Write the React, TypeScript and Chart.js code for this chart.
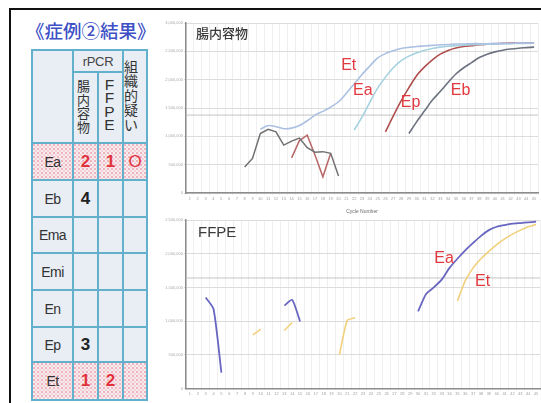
import React, { useEffect, useRef } from 'react';
import { Chart, registerables } from 'chart.js';

Chart.register(...registerables);

// ---------- data ----------
const cycleLabels = [
  '1', '2', '3', '4', '5', '6', '7', '8', '9', '10', '11', '12', '13', '14', '15',
  '16', '17', '18', '19', '20', '21', '22', '23', '24', '25', '26', '27', '28', '29', '30',
  '31', '32', '33', '34', '35', '36', '37', '38', '39', '40', '41', '42', '43', '44', '45',
];

// top panel: 腸内容物 (series start cycle + values)
const gutEtStart = 10;
const gutEt = [2.25, 2.38, 2.34, 2.27, 2.29, 2.38, 2.55, 2.75, 2.88, 3.03, 3.22, 3.52, 3.85, 4.18, 4.48, 4.77, 4.92, 5.02, 5.1, 5.14, 5.17, 5.19, 5.21, 5.23, 5.24, 5.26, 5.26, 5.27, 5.27, 5.27, 5.28, 5.28, 5.28, 5.29, 5.29, 5.29];
const gutEaStart = 22;
const gutEa = [2.22, 2.68, 3.2, 3.7, 4.09, 4.42, 4.67, 4.83, 4.95, 5.04, 5.1, 5.15, 5.18, 5.2, 5.22, 5.23, 5.24, 5.25, 5.26, 5.27, 5.27, 5.28, 5.28, 5.29];
const gutEpStart = 26;
const gutEp = [2.16, 2.72, 3.25, 3.72, 4.15, 4.45, 4.7, 4.9, 5.03, 5.12, 5.17, 5.2, 5.23, 5.25, 5.27, 5.28, 5.29, 5.29, 5.3, 5.3];
const gutEbStart = 29;
const gutEb = [2.1, 2.52, 2.9, 3.28, 3.58, 3.9, 4.2, 4.42, 4.6, 4.78, 4.9, 4.98, 5.04, 5.08, 5.11, 5.13, 5.15];
const gutNoiseGrayStart = 8;
const gutNoiseGray = [0.92, 1.22, 2.1, 2.25, 2.16, 1.69, 1.83, 1.94, 1.6, 1.44, 1.46, 1.4, 0.6];
const gutNoiseRedStart = 14;
const gutNoiseRed = [1.24, 1.85, 2.04, 1.33, 0.57, 1.4];
const gutThreshold = 2.75;
const gutYTicks = ['0', '500,000', '1,000,000', '1,500,000', '2,000,000', '2,500,000', '3,000,000'];

// bottom panel: FFPE (segments: [start cycle, values])
const ffpeEaSegments: [number, number[]][] = [
  [3, [2.7, 2.36, 0.47]],
  [13, [2.46, 2.63, 1.99]],
  [30, [2.29, 2.8, 3.0, 3.23, 3.58, 3.85, 4.1, 4.32, 4.53, 4.7, 4.8, 4.85, 4.89, 4.91, 4.93, 4.95]],
];
const ffpeEtSegments: [number, number[]][] = [
  [9, [1.59, 1.76]],
  [13, [1.72, 1.96]],
  [20, [1.0, 2.02, 2.1]],
  [35, [2.6, 3.2, 3.58, 3.85, 4.07, 4.27, 4.44, 4.58, 4.7, 4.8, 4.87]],
];
const ffpeThreshold = 3.28;
const ffpeYTicks = ['0', '500,000', '1,000,000', '1,500,000', '2,000,000', '2,500,000'];

// table
const rowLabels = ['Ea', 'Eb', 'Ema', 'Emi', 'En', 'Ep', 'Et'];
const gutCounts = ['2', '4', '', '', '', '3', '1'];
const ffpeCounts = ['1', '', '', '', '', '', '2'];
const tissueSuspect = ['O', '', '', '', '', '', ''];
const highlightRows = ['Ea', 'Et'];

// ---------- helpers ----------
function fromSegments(segs: [number, number[]][]): (number | null)[] {
  const out: (number | null)[] = cycleLabels.map(() => null);
  segs.forEach(([start, vals]) => {
    vals.forEach((v, i) => {
      out[start - 1 + i] = v;
    });
  });
  return out;
}

type Series = { data: (number | null)[]; color: string; width: number; tension: number };
type Note = { text: string; cycle: number; value: number; color: string; font: string };

interface PanelProps {
  left: number;
  top: number;
  width: number;
  height: number;
  padding: { left: number; right: number; top: number; bottom: number };
  yMax: number;
  yTicks: string[];
  threshold: number;
  series: Series[];
  notes: Note[];
  title: string;
  titleFont: string;
  titleDx: number;
  titleDy: number;
  xAxisHeight: number;
}

function Panel(p: PanelProps) {
  const ref = useRef<HTMLCanvasElement>(null);
  useEffect(() => {
    const overlay = {
      id: 'overlay',
      beforeDatasetsDraw(chart: any) {
        const { ctx, chartArea, scales } = chart;
        const y = scales.y.getPixelForValue(p.threshold);
        ctx.save();
        ctx.strokeStyle = '#c4c4c4';
        ctx.lineWidth = 1;
        ctx.beginPath();
        ctx.moveTo(chartArea.left, y);
        ctx.lineTo(chartArea.right, y);
        ctx.stroke();
        ctx.restore();
      },
      afterDatasetsDraw(chart: any) {
        const { ctx, chartArea, scales } = chart;
        ctx.save();
        ctx.fillStyle = '#3a3a3a';
        ctx.font = p.titleFont;
        ctx.textAlign = 'left';
        ctx.textBaseline = 'top';
        ctx.fillText(p.title, chartArea.left + p.titleDx, chartArea.top + p.titleDy);
        ctx.textAlign = 'center';
        ctx.textBaseline = 'middle';
        p.notes.forEach((n) => {
          ctx.fillStyle = n.color;
          ctx.font = n.font;
          ctx.fillText(n.text, scales.x.getPixelForValue(n.cycle - 1), scales.y.getPixelForValue(n.value));
        });
        ctx.restore();
      },
    };
    const chart = new Chart(ref.current as HTMLCanvasElement, {
      type: 'line',
      data: {
        labels: cycleLabels,
        datasets: p.series.map((s) => ({
          data: s.data,
          borderColor: s.color,
          borderWidth: s.width,
          pointRadius: 0,
          tension: s.tension,
          spanGaps: false,
          fill: false,
        })),
      },
      options: {
        responsive: false,
        animation: false,
        devicePixelRatio: 1,
        layout: { padding: p.padding },
        plugins: { legend: { display: false }, tooltip: { enabled: false } },
        scales: {
          x: {
            type: 'category',
            offset: true,
            grid: { color: '#efefef', lineWidth: 1, tickLength: 2, offset: true },
            border: { color: '#8c8c8c', width: 1.5 },
            ticks: {
              autoSkip: false,
              maxRotation: 0,
              minRotation: 0,
              font: { size: 4 },
              color: '#a0a0a0',
              padding: 1,
            },
            title: {
              display: true,
              text: 'Cycle Number',
              font: { size: 5 },
              color: '#6a6a6a',
              padding: { top: 3, bottom: 0 },
            },
            afterFit: (s: any) => {
              s.height = p.xAxisHeight;
            },
          },
          y: {
            min: 0,
            max: p.yMax,
            ticks: {
              stepSize: 1,
              font: { size: 4 },
              color: '#a8a8a8',
              padding: 1,
              callback: (v: any) => p.yTicks[Math.round(Number(v))] ?? '',
            },
            grid: { color: '#dcdcdc', lineWidth: 1, tickLength: 2 },
            border: { color: '#8c8c8c', width: 1.5 },
            afterFit: (s: any) => {
              s.width = 26;
            },
          },
        },
      } as any,
      plugins: [overlay],
    });
    return () => chart.destroy();
  }, []);
  return (
    <canvas
      ref={ref}
      width={p.width}
      height={p.height}
      style={{ position: 'absolute', left: p.left, top: p.top, width: p.width, height: p.height }}
    />
  );
}

// ---------- table ----------
const colX = [32, 73, 98, 123, 147];
const rowY = [143, 180, 217, 253, 290, 327, 362, 400];
const tableTop = 50;
const subHeadY = 72;
const lineColor = '#62b0cc';
const cellFill = '#e8eef4';
const dotFill = {
  backgroundColor: '#f6ebee',
  backgroundImage:
    'radial-gradient(circle, #ec9fab 0.6px, transparent 1px), radial-gradient(circle, #f2b8c0 0.5px, transparent 0.9px)',
  backgroundSize: '4px 4px, 4px 4px',
  backgroundPosition: '0 0, 2px 2px',
};
const cjk = '"Noto Sans CJK JP", "Noto Sans", sans-serif';
const latin = '"Liberation Sans", Arial, sans-serif';

function VText({ text, x, y, w, pitch, size, font, color }: { text: string; x: number; y: number; w: number; pitch: number; size: number; font: string; color: string }) {
  return (
    <div style={{ position: 'absolute', left: x, top: y, width: w, textAlign: 'center', fontFamily: font, fontSize: size, lineHeight: `${pitch}px`, color }}>
      {text.split('').map((ch, i) => (
        <div key={i}>{ch}</div>
      ))}
    </div>
  );
}

function Table() {
  const els: React.ReactNode[] = [];
  els.push(<div key="hf" style={{ position: 'absolute', left: colX[0], top: tableTop, width: colX[4] - colX[0], height: rowY[0] - tableTop, background: cellFill }} />);
  rowLabels.forEach((lab, i) => {
    const hl = highlightRows.includes(lab);
    const top = rowY[i];
    const h = rowY[i + 1] - rowY[i];
    const vals = [lab, gutCounts[i], ffpeCounts[i], tissueSuspect[i]];
    vals.forEach((v, j) => {
      const isLabel = j === 0;
      els.push(
        <div
          key={`c${i}-${j}`}
          style={{
            position: 'absolute',
            left: colX[j],
            top,
            width: colX[j + 1] - colX[j],
            height: h,
            ...(hl ? dotFill : { background: cellFill }),
            display: 'flex',
            alignItems: 'center',
            justifyContent: 'center',
            fontFamily: latin,
            fontSize: isLabel ? 14 : 17,
            fontWeight: isLabel ? 400 : v === 'O' ? 400 : 700,
            letterSpacing: isLabel ? -0.6 : 0,
            color: isLabel ? '#333' : hl ? '#e2333d' : '#222',
          }}
        >
          {v}
        </div>
      );
    });
  });
  const vline = (x: number, y1: number, y2: number, k: string) => (
    <div key={k} style={{ position: 'absolute', left: x - 0.75, top: y1 - 0.75, width: 1.5, height: y2 - y1 + 1.5, background: lineColor }} />
  );
  const hline = (y: number, x1: number, x2: number, k: string) => (
    <div key={k} style={{ position: 'absolute', left: x1 - 0.75, top: y - 0.75, width: x2 - x1 + 1.5, height: 1.5, background: lineColor }} />
  );
  colX.forEach((x, j) => {
    els.push(vline(x, j === 2 ? subHeadY : tableTop, rowY[rowY.length - 1], `v${j}`));
  });
  els.push(hline(tableTop, colX[0], colX[4], 'ht'));
  els.push(hline(subHeadY, colX[1], colX[3], 'hs'));
  rowY.forEach((y, i) => els.push(hline(y, colX[0], colX[4], `h${i}`)));
  els.push(
    <div key="rpcr" style={{ position: 'absolute', left: colX[1], top: tableTop, width: colX[3] - colX[1], height: subHeadY - tableTop, display: 'flex', alignItems: 'center', justifyContent: 'center', fontFamily: latin, fontSize: 13, color: '#444', letterSpacing: -0.3 }}>
      rPCR
    </div>
  );
  els.push(<VText key="t1" text="腸内容物" x={colX[1] - 2} y={79} w={colX[2] - colX[1]} pitch={13.5} size={13} font={cjk} color="#333" />);
  els.push(<VText key="t2" text="FFPE" x={colX[2] - 1} y={78} w={colX[3] - colX[2]} pitch={13.3} size={15.5} font={latin} color="#333" />);
  els.push(<VText key="t3" text="組織的疑い" x={colX[3] - 4} y={59} w={colX[4] - colX[3]} pitch={14.4} size={14} font={cjk} color="#333" />);
  return <>{els}</>;
}

// ---------- app ----------
const red = '#e2393f';
const noteFont = '16px "Liberation Sans", Arial, sans-serif';

export default function App() {
  const topSeries: Series[] = [
    { data: fromSegments([[gutNoiseGrayStart, gutNoiseGray]]), color: '#707070', width: 1.5, tension: 0 },
    { data: fromSegments([[gutNoiseRedStart, gutNoiseRed]]), color: '#b86868', width: 1.5, tension: 0 },
    { data: fromSegments([[gutEtStart, gutEt]]), color: '#abc0e2', width: 1.6, tension: 0.3 },
    { data: fromSegments([[gutEaStart, gutEa]]), color: '#a6d2df', width: 1.6, tension: 0.3 },
    { data: fromSegments([[gutEpStart, gutEp]]), color: '#b04e4e', width: 1.6, tension: 0.3 },
    { data: fromSegments([[gutEbStart, gutEb]]), color: '#6c7280', width: 1.6, tension: 0.3 },
  ];
  const topNotes: Note[] = [
    { text: 'Et', cycle: 21.3, value: 4.48, color: red, font: noteFont },
    { text: 'Ea', cycle: 23.1, value: 3.6, color: red, font: noteFont },
    { text: 'Ep', cycle: 29.2, value: 3.19, color: red, font: noteFont },
    { text: 'Eb', cycle: 35.6, value: 3.62, color: red, font: noteFont },
  ];
  const bottomSeries: Series[] = [
    { data: fromSegments(ffpeEtSegments), color: '#f2d07c', width: 1.6, tension: 0.2 },
    { data: fromSegments(ffpeEaSegments), color: '#6866c0', width: 1.8, tension: 0.2 },
  ];
  const bottomNotes: Note[] = [
    { text: 'Ea', cycle: 33.3, value: 3.85, color: red, font: noteFont },
    { text: 'Et', cycle: 38.2, value: 3.18, color: red, font: noteFont },
  ];
  return (
    <div style={{ position: 'fixed', left: 0, top: 0, width: 541, height: 403, overflow: 'hidden', background: '#fff' }}>
      <div style={{ position: 'absolute', left: 9, top: 8, width: 540, height: 400, borderTop: '2px solid #111', borderLeft: '2px solid #111' }} />
      <div style={{ position: 'absolute', left: 26, top: 17, fontFamily: cjk, fontSize: 18.5, fontWeight: 500, color: '#3d50c6', whiteSpace: 'nowrap', lineHeight: '26px' }}>
        《症例②結果》
      </div>
      <Table />
      <Panel
        left={160}
        top={10}
        width={381}
        height={205}
        padding={{ left: 0, right: 3, top: 13, bottom: 0 }}
        yMax={6}
        yTicks={gutYTicks}
        threshold={gutThreshold}
        series={topSeries}
        notes={topNotes}
        title="腸内容物"
        titleFont={`500 13px ${cjk}`}
        titleDx={10}
        titleDy={4}
        xAxisHeight={22}
      />
      <Panel
        left={160}
        top={212}
        width={381}
        height={200}
        padding={{ left: 0, right: 1, top: 8, bottom: 0 }}
        yMax={5}
        yTicks={ffpeYTicks}
        threshold={ffpeThreshold}
        series={bottomSeries}
        notes={bottomNotes}
        title="FFPE"
        titleFont={`15px ${latin}`}
        titleDx={12}
        titleDy={5}
        xAxisHeight={23.5}
      />
    </div>
  );
}
